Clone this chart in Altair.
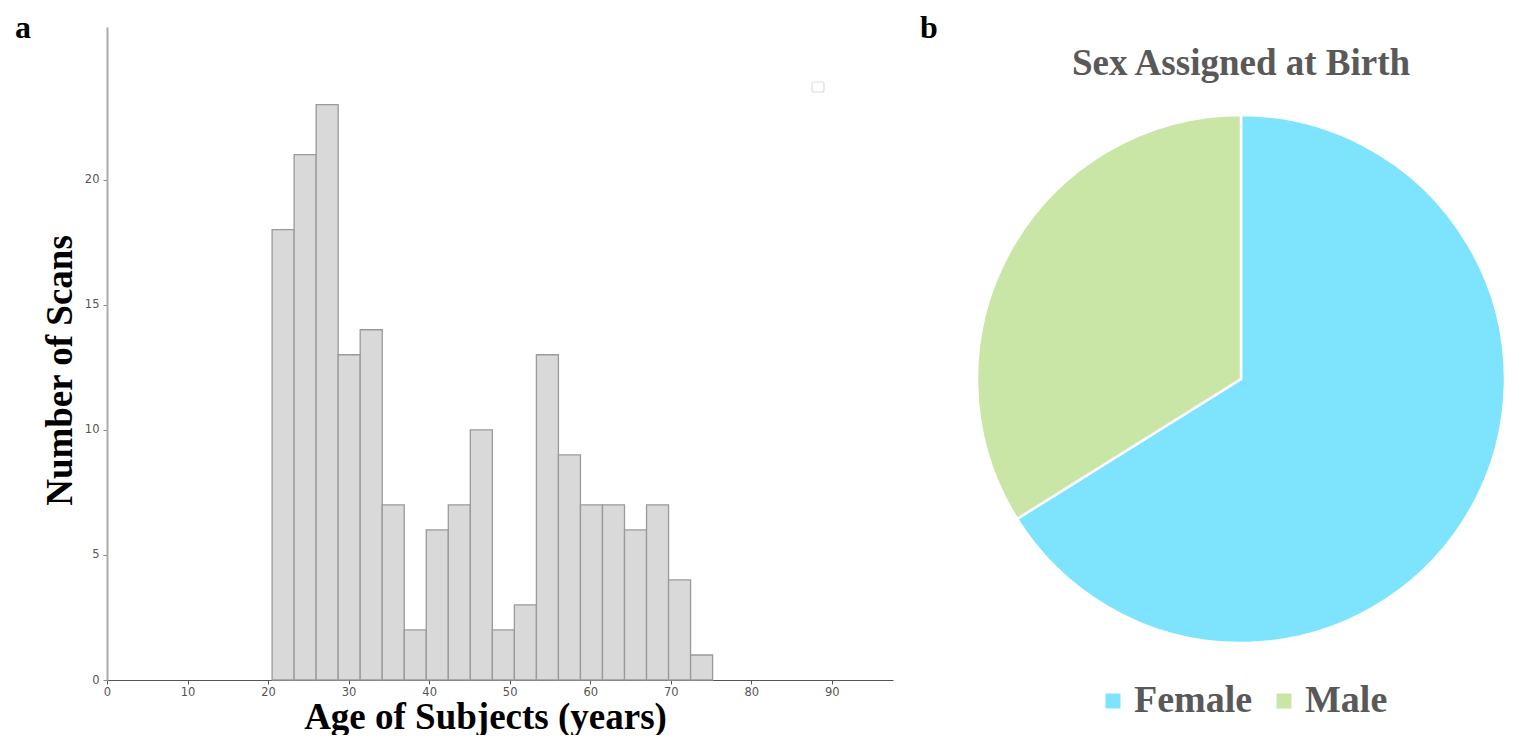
import altair as alt
import pandas as pd
import numpy as np

# ---- data ----
counts = [18, 21, 23, 13, 14, 7, 2, 6, 7, 10, 2, 3, 13, 9, 7, 7, 6, 7, 4, 1]
age_min = 20.5
age_max = 75.2
x_ticks = [0, 10, 20, 30, 40, 50, 60, 70, 80, 90]
y_ticks = [0, 5, 10, 15, 20]
sex_labels = ["Female", "Male"]
sex_counts = [119, 61]
sex_colors = ["#7ee4fe", "#c9e6a7"]

edges = np.linspace(age_min, age_max, len(counts) + 1)
hist_df = pd.DataFrame({"start": edges[:-1], "end": edges[1:], "count": counts})
pie_df = pd.DataFrame({"sex": sex_labels, "n": sex_counts, "order": [0, 1]})

SERIF = "Liberation Serif"

bars = alt.Chart(hist_df).mark_bar(fill="#d9d9d9", stroke="#9a9a9a", strokeWidth=1.3).encode(
    x=alt.X("start:Q",
            scale=alt.Scale(domain=[0, 97.6], nice=False, zero=False),
            axis=alt.Axis(values=x_ticks, title="Age of Subjects (years)", grid=False,
                          domainColor="#555555", domainWidth=1.2, tickColor="#555555",
                          tickSize=4, labelFont="DejaVu Sans", labelFontSize=11.5,
                          labelColor="#555555", labelPadding=2, labelFlush=False,
                          titleFont=SERIF, titleFontSize=37, titleFontWeight="bold",
                          titleColor="#000000", titleX=378, titleY=37,
                          titleBaseline="middle")),
    x2="end:Q",
    y=alt.Y("count:Q",
            scale=alt.Scale(domain=[0, 26.1], nice=False),
            axis=alt.Axis(values=y_ticks, title="Number of Scans", grid=False,
                          domainColor="#aaaaaa", domainWidth=2, tickColor="#888888",
                          tickSize=4, labelFont="DejaVu Sans", labelFontSize=11.5,
                          labelColor="#555555", labelPadding=4, labelFlush=False,
                          titleFont=SERIF, titleFontSize=37, titleFontWeight="bold",
                          titleColor="#000000", titleX=-47, titleY=343,
                          titleBaseline="middle")),
    y2=alt.datum(0),
)

a_text = alt.Chart(pd.DataFrame({"t": ["a"]})).mark_text(
    align="left", baseline="middle", font=SERIF, fontSize=32, fontWeight="bold", color="#000000"
).encode(text="t:N", x=alt.value(-92), y=alt.value(1))

empty_box = alt.Chart(pd.DataFrame({"t": [0]})).mark_rect(
    fill="white", stroke="#dddddd", strokeWidth=1.2, cornerRadius=2
).encode(x=alt.value(705), x2=alt.value(717), y=alt.value(55), y2=alt.value(65))

left = alt.layer(bars, a_text, empty_box).properties(width=786, height=653)

pie = alt.Chart(pie_df).mark_arc(radius=264, stroke="white", strokeWidth=2.5).encode(
    theta=alt.Theta("n:Q", stack=True),
    order=alt.Order("order:Q"),
    color=alt.Color("sex:N",
                    scale=alt.Scale(domain=sex_labels, range=sex_colors),
                    legend=alt.Legend(title=None, orient="none", legendX=987, legendY=655,
                                      direction="horizontal", labelFont=SERIF,
                                      labelFontSize=38, labelFontWeight="bold",
                                      labelColor="#595959", symbolType="square",
                                      symbolSize=225, symbolStrokeWidth=0,
                                      columnPadding=12, labelOffset=2)),
    x=alt.value(326),
    y=alt.value(352),
)

b_text = alt.Chart(pd.DataFrame({"t": ["b"]})).mark_text(
    align="left", baseline="middle", font=SERIF, fontSize=32, fontWeight="bold", color="#000000"
).encode(text="t:N", x=alt.value(5), y=alt.value(1))

pie_title = alt.Chart(pd.DataFrame({"t": ["Sex Assigned at Birth"]})).mark_text(
    align="center", baseline="middle", font=SERIF, fontSize=37, fontWeight="bold", color="#595959"
).encode(text="t:N", x=alt.value(326), y=alt.value(37))

right = alt.layer(pie, b_text, pie_title).properties(width=600, height=653)

chart = alt.hconcat(left, right, spacing=22).properties(
    padding={"left": 7, "top": 4, "right": 0, "bottom": 0}
).configure_view(stroke=None)

chart.save("out.html", embed_options={"renderer": "svg", "actions": False})
